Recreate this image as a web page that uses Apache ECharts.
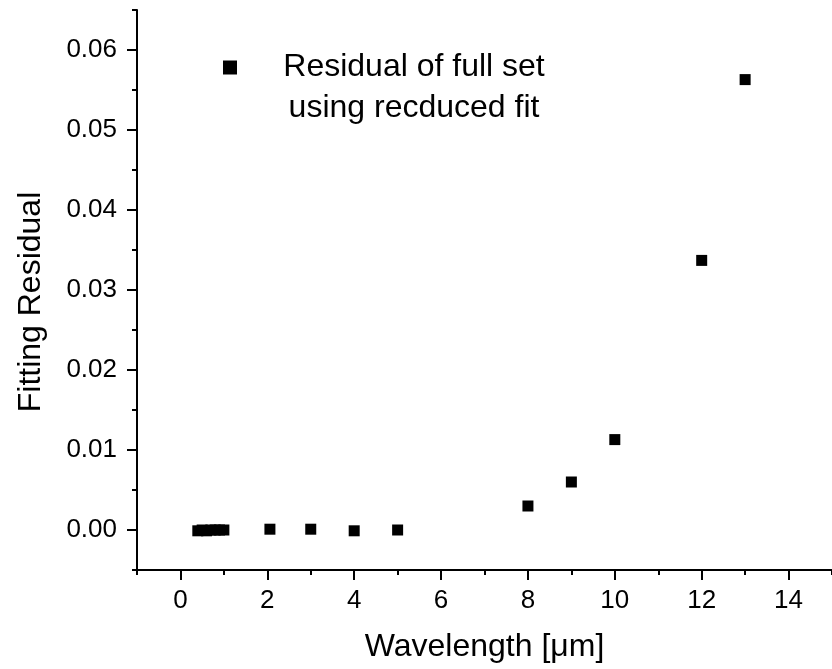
<!DOCTYPE html>
<html>
<head>
<meta charset="utf-8">
<script src="https://cdn.jsdelivr.net/npm/echarts@6/dist/echarts.min.js"></script>
<style>
html,body{margin:0;padding:0;background:#fff;}
#chart{width:832px;height:669px;}
</style>
</head>
<body>
<div id="chart"></div>
<script>
// Data
const wavelength = [0.4, 0.5, 0.6, 0.7, 0.8, 0.9, 1.0, 2.06, 3, 4, 5, 8, 9, 10, 12, 13];
const residual = [-0.0001, 0.0, -0.0001, 0.0, 0.0, 0.0, 0.0, 0.0001, 0.0001, -0.0001, 0.0, 0.0030, 0.0060, 0.0113, 0.0337, 0.0563];

const xMajorTicks = [0, 2, 4, 6, 8, 10, 12, 14];
const xMinorTicks = [-1, 1, 3, 5, 7, 9, 11, 13, 15];
const yMajorTicks = [0.00, 0.01, 0.02, 0.03, 0.04, 0.05, 0.06];
const yMinorTicks = [-0.005, 0.005, 0.015, 0.025, 0.035, 0.045, 0.055, 0.065];

const xTitle = 'Wavelength [\u03bcm]';
const yTitle = 'Fitting Residual';
const legendLines = ['Residual of full set', 'using recduced fit'];
const seriesName = legendLines.join(' ');

const FONT = '"Liberation Sans", Arial, sans-serif';
const BLACK = '#000';

const points = wavelength.map((x, i) => [x, residual[i]]);

const chart = echarts.init(document.getElementById('chart'), null, {renderer: 'canvas'});

const tickStyle = {color: BLACK, width: 2};

chart.setOption({
  animation: false,
  backgroundColor: '#fff',
  grid: {left: 137, right: -1, top: 10, bottom: 99, containLabel: false},
  legend: {
    data: [seriesName],
    left: 223,
    top: 51.5,
    padding: 0,
    icon: 'rect',
    itemWidth: 14,
    itemHeight: 14,
    itemStyle: {color: BLACK, opacity: 1},
    formatter: function () {
      return '{a|' + legendLines[0] + '}\n{a|' + legendLines[1] + '}';
    },
    textStyle: {
      padding: [41, 0, 0, 40],
      rich: {
        a: {width: 264, align: 'center', fontSize: 32, lineHeight: 41, fontFamily: FONT, color: BLACK}
      }
    }
  },
  xAxis: [
    {
      type: 'value', min: -1, max: 15, position: 'bottom',
      axisLine: {onZero: false, lineStyle: {color: BLACK, width: 2}},
      axisTick: {customValues: xMajorTicks, length: 10, lineStyle: tickStyle},
      axisLabel: {customValues: xMajorTicks, margin: 18, fontSize: 26, color: BLACK, fontFamily: FONT},
      splitLine: {show: false},
      name: xTitle, nameLocation: 'middle', nameGap: 61,
      nameTextStyle: {fontSize: 32, color: BLACK, fontFamily: FONT}
    },
    {
      type: 'value', min: -1, max: 15, position: 'bottom',
      axisLine: {show: false, onZero: false},
      axisTick: {customValues: xMinorTicks, length: 5, lineStyle: tickStyle},
      axisLabel: {show: false},
      splitLine: {show: false}
    }
  ],
  yAxis: [
    {
      type: 'value', min: -0.005, max: 0.065, position: 'left',
      axisLine: {onZero: false, lineStyle: {color: BLACK, width: 2}},
      axisTick: {customValues: yMajorTicks, length: 10, lineStyle: tickStyle},
      axisLabel: {
        customValues: yMajorTicks, margin: 20, fontSize: 26, color: BLACK, fontFamily: FONT,
        formatter: v => v.toFixed(2)
      },
      splitLine: {show: false},
      name: yTitle, nameLocation: 'middle', nameGap: 90, nameRotate: 90,
      nameTextStyle: {fontSize: 32, color: BLACK, fontFamily: FONT, padding: [0, 24, 0, 0]}
    },
    {
      type: 'value', min: -0.005, max: 0.065, position: 'left',
      axisLine: {show: false, onZero: false},
      axisTick: {customValues: yMinorTicks, length: 5, lineStyle: tickStyle},
      axisLabel: {show: false},
      splitLine: {show: false}
    }
  ],
  series: [
    {
      name: seriesName,
      type: 'scatter',
      xAxisIndex: 0,
      yAxisIndex: 0,
      symbol: 'rect',
      symbolSize: 11,
      itemStyle: {color: BLACK, opacity: 1},
      data: points
    }
  ]
});
</script>
</body>
</html>
